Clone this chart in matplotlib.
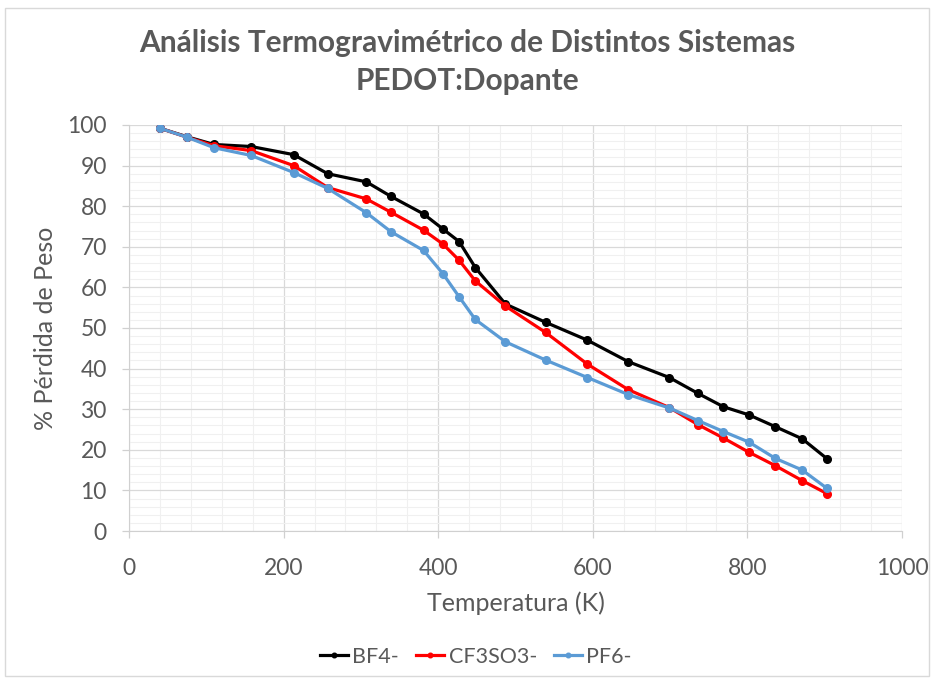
import matplotlib
matplotlib.use('Agg')
import matplotlib.pyplot as plt
from matplotlib.patches import Rectangle
from matplotlib.ticker import MultipleLocator

plt.rcParams['font.family'] = ['Lato', 'DejaVu Sans']

temperatura = [40, 75, 110, 158, 213, 257, 307, 339, 381, 406, 427, 448,
               487, 539, 593, 646, 699, 736, 769, 802, 836, 871, 903]
bf4 = [99.2, 97.1, 95.2, 94.7, 92.7, 88.0, 86.0, 82.4, 78.1, 74.4, 71.3, 64.9,
       55.9, 51.4, 47.0, 41.7, 37.8, 33.9, 30.6, 28.6, 25.7, 22.7, 17.8]
cf3so3 = [99.2, 97.0, 94.9, 93.7, 90.0, 84.6, 81.8, 78.5, 74.1, 70.7, 66.7, 61.6,
          55.4, 48.9, 41.1, 34.8, 30.4, 26.2, 22.9, 19.4, 16.1, 12.4, 9.2]
pf6 = [99.2, 97.0, 94.4, 92.5, 88.3, 84.4, 78.4, 73.7, 69.1, 63.4, 57.7, 52.1,
       46.6, 42.1, 37.8, 33.6, 30.3, 27.2, 24.5, 21.9, 17.9, 15.0, 10.5]

series = [('BF4-', bf4, '#000000'),
          ('CF3SO3-', cf3so3, '#FF0000'),
          ('PF6-', pf6, '#5B9BD5')]

gris = '#595959'
eje = '#D0D0D0'

fig = plt.figure(figsize=(9.35, 6.82), dpi=100)
ax = fig.add_axes([129 / 935, 1 - 531 / 682, 773 / 935, 406 / 682])

for nombre, valores, color in series:
    ax.plot(temperatura, valores, color=color, lw=2.3, marker='o', ms=5.5,
            label=nombre, zorder=3)

ax.set_xlim(0, 1000)
ax.set_ylim(0, 100)
ax.xaxis.set_major_locator(MultipleLocator(200))
ax.xaxis.set_minor_locator(MultipleLocator(40))
ax.yaxis.set_major_locator(MultipleLocator(10))
ax.yaxis.set_minor_locator(MultipleLocator(2))
ax.grid(which='major', color='#D9D9D9', lw=0.9, zorder=0)
ax.grid(which='minor', color='#F0F0F0', lw=0.8, zorder=0)
ax.set_axisbelow(True)

for lado in ['top', 'right']:
    ax.spines[lado].set_visible(False)
for lado in ['left', 'bottom']:
    ax.spines[lado].set_color(eje)
ax.tick_params(which='major', length=5, width=0.9, color=eje, labelsize=16.5,
               labelcolor=gris)
ax.tick_params(which='minor', length=0)
ax.tick_params(axis='y', pad=11)
ax.tick_params(axis='x', pad=14.5)

ax.set_xlabel('Temperatura (K)', fontsize=18, color=gris, labelpad=9)
ax.set_ylabel('% Pérdida de Peso', fontsize=18, color=gris, labelpad=7.5)

fig.text(0.5, 1 - 62 / 682, 'Análisis Termogravimétrico de Distintos Sistemas\nPEDOT:Dopante',
         ha='center', va='center', fontsize=21.5, fontweight='bold', color=gris,
         linespacing=1.45)

ax.legend(loc='center', bbox_to_anchor=(476 / 935, 1 - 657 / 682), bbox_transform=fig.transFigure,
          ncol=3, frameon=False, fontsize=15.5, handlelength=1.3, handletextpad=0.2,
          columnspacing=0.8, labelcolor=gris, markerscale=0.6)

fig.patches.append(Rectangle((5 / 935, 6 / 682), 924 / 935, 668 / 682, transform=fig.transFigure,
                             fill=False, edgecolor='#D9D9D9', lw=1))

fig.savefig('out.png', dpi=100)
